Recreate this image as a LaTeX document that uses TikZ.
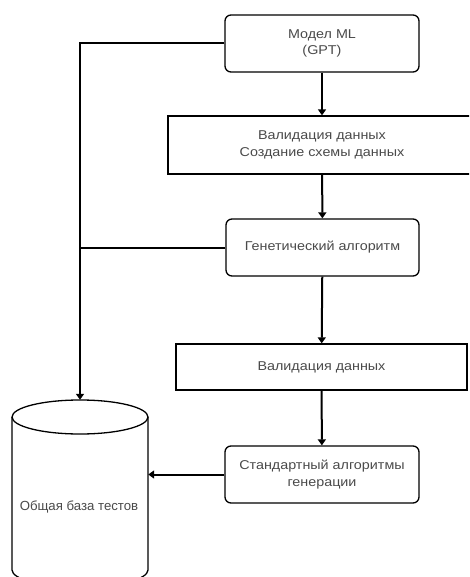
\documentclass[tikz,border=0pt]{standalone}
\usepackage{fontspec}
\setmainfont{Liberation Sans}
\newfontfamily\wideface{Liberation Sans}[FakeStretch=1.12]
\usetikzlibrary{arrows.meta}
\definecolor{txt}{HTML}{4A4A4A}
\tikzset{
  x=1pt, y=1pt,
  label font/.style={font=\wideface\fontsize{12.8}{16.5}\selectfont},
  box/.style={draw=black, line width=1.3pt, fill=white, text=txt,
    label font, align=center, inner sep=2pt},
  roundbox/.style={box, rounded corners=6pt},
  flow/.style={line width=2pt, -{Triangle[length=6pt,width=8pt]}},
  link/.style={line width=2pt},
}
\begin{document}
\begin{tikzpicture}
\useasboundingbox (0,0) rectangle (469,-577);
\clip (0,0) rectangle (469,-577);
\fill[white] (0,0) rectangle (469,-577);

% process boxes
\node[roundbox, minimum width=194, minimum height=57] (model) at (322,-43.5) {Модел ML\\(GPT)};
\node[box, minimum width=308, minimum height=58] (valschema) at (322,-145) {Валидация данных\\Создание схемы данных};
\node[roundbox, minimum width=193, minimum height=57] (genetic) at (322.5,-247.5) {Генетический алгоритм};
\node[box, minimum width=291, minimum height=46] (validate) at (321.5,-367) {Валидация данных};
\node[roundbox, minimum width=194, minimum height=57] (standard) at (322,-474.5) {Стандартный алгоритмы\\генерации};

% test database (cylinder)
\node[minimum width=136, minimum height=187, inner sep=0pt] (db) at (80,-493.5) {};
\draw[line width=1.3pt, fill=white] (12,-417) -- (12,-570)
  arc[start angle=180, end angle=360, x radius=68pt, y radius=17pt] -- (148,-417);
\draw[line width=1.3pt, fill=white] (80,-417) ellipse [x radius=68pt, y radius=17pt];
\node[text=txt, font=\fontsize{13.2}{16.5}\selectfont] (dblabel) at (79,-507) {Общая база тестов};

% main flow
\draw[flow] (model) -- (valschema);
\draw[flow] (valschema) -- (genetic);
\draw[flow] (genetic) -- (validate);
\draw[flow] (validate) -- (standard);

% results into the database
\draw[flow] (model.west) -| (db.north);
\draw[link] (genetic.west) -- (genetic.west -| db.north);
\draw[flow] (standard.west) -- (standard.west -| db.east);
\end{tikzpicture}
\end{document}
